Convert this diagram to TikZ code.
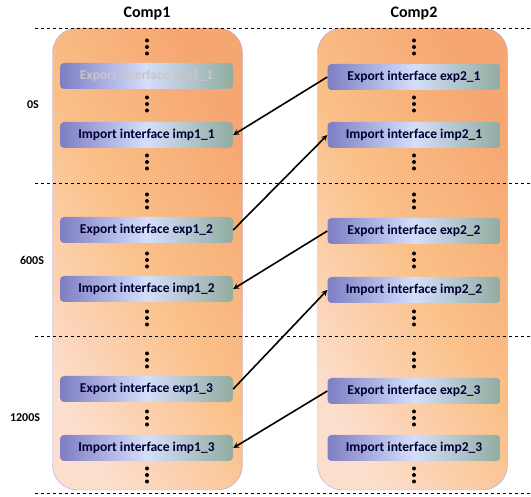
\documentclass[tikz,border=0pt]{standalone}
\usepackage{fontspec}
\setmainfont{Carlito}
\usetikzlibrary{arrows,positioning}

\definecolor{compA}{RGB}{252,222,205}
\definecolor{compB}{RGB}{250,192,136}
\definecolor{compC}{RGB}{246,166,112}
\definecolor{ifleft}{RGB}{126,126,196}
\definecolor{ifmid}{RGB}{212,222,250}
\definecolor{ifright}{RGB}{146,172,160}

\begin{document}
\begin{tikzpicture}[x=1pt, y=-1pt, >=stealth,
                    comp/.style={draw=black!30!blue!35, rounded corners=25pt,
                                 minimum width=190pt, minimum height=462pt,
                                 left color=compA, right color=compC, middle color=compB,
                                 shading angle=120},
                    iface/.style={rounded corners=4pt, minimum width=173pt, minimum height=26pt,
                                  left color=ifleft, right color=ifright, middle color=ifmid,
                                  font=\fontsize{13.5}{15}\selectfont\bfseries, text=black!80!blue},
                    hdr/.style={font=\fontsize{16}{18}\selectfont\bfseries},
                    tlabel/.style={font=\fontsize{12}{14}\selectfont\bfseries},
                    every edge/.style={draw, line width=1.6pt}]
\useasboundingbox (0,0) rectangle (531,497);

\node[comp] (comp1) at (147.5,259) {};
\node[comp] (comp2) at (412.5,259) {};

\node[hdr] (hdr1) at (147,14) {Comp1};
\node[hdr] (hdr2) at (414,14) {Comp2};

\foreach \y in {28,183,336,493}
  \draw[dashed, line width=0.7pt] (35,\y) -- (531,\y);

\node[tlabel] (t0) at (33,105) {0S};
\node[tlabel] (t600) at (32,260) {600S};
\node[tlabel] (t1200) at (25,418) {1200S};

\node[iface, text=black!22] (exp11) at (146.5,76) {Export interface exp1\_1};
\node[iface] (imp11) at (146.5,135) {Import interface imp1\_1};
\node[iface] (exp12) at (146.5,230) {Export interface exp1\_2};
\node[iface] (imp12) at (146.5,289) {Import interface imp1\_2};
\node[iface] (exp13) at (146.5,389) {Export interface exp1\_3};
\node[iface] (imp13) at (146.5,448) {Import interface imp1\_3};

\node[iface] (exp21) at (414,77) {Export interface exp2\_1};
\node[iface] (imp21) at (414,135) {Import interface imp2\_1};
\node[iface] (exp22) at (414,231) {Export interface exp2\_2};
\node[iface] (imp22) at (414,290) {Import interface imp2\_2};
\node[iface] (exp23) at (414,391) {Export interface exp2\_3};
\node[iface] (imp23) at (414,448) {Import interface imp2\_3};

\foreach \x in {147,414}
  \foreach \y in {47,104,162,201,260,318,360,418,475}
    \foreach \d in {-6.5,0,6.5}
      \fill (\x,\y+\d) circle (2pt);

\path[->]
(exp21.west) edge (imp11.east)
(exp12.east) edge (imp21.west)
(exp22.west) edge (imp12.east)
(exp13.east) edge (imp22.west)
(exp23.west) edge (imp13.east);
\end{tikzpicture}
\end{document}
